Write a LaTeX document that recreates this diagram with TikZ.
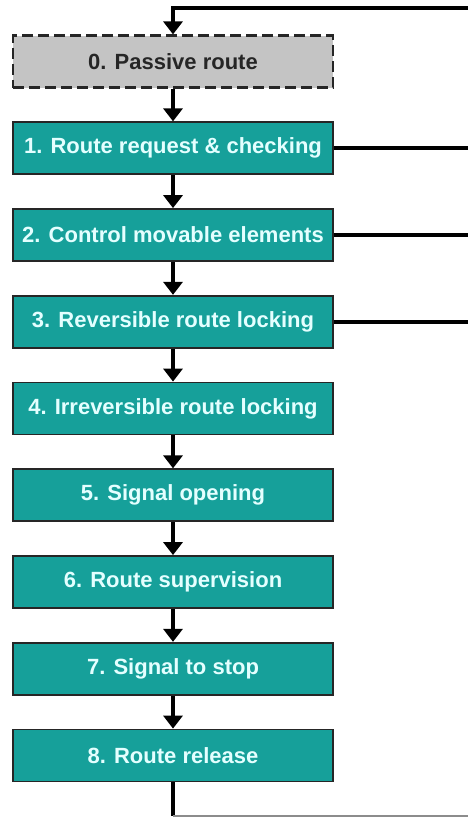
\documentclass[tikz,border=0pt]{standalone}
\usepackage{fontspec}
\setmainfont{Liberation Sans}
\usetikzlibrary{arrows.meta}
\definecolor{teal1}{HTML}{16A09A}
\definecolor{txt}{HTML}{E4FFFF}
\definecolor{greybox}{HTML}{C4C4C4}
\tikzset{
  stepbox/.style={draw=black!85, line width=1.8pt, fill=teal1, minimum width=320pt, minimum height=52pt, inner sep=0pt, text=txt, font=\fontsize{22}{26}\selectfont\bfseries},
  passivebox/.style={stepbox, fill=greybox, text=black!85, line width=2.2pt, dash pattern=on 11pt off 5pt},
  flow/.style={line width=4pt, -{Triangle[width=19pt,length=13pt]}},
  back/.style={line width=3.6pt},
}
\begin{document}
\begin{tikzpicture}[x=1pt,y=-1pt]
\useasboundingbox (0,0) rectangle (468,817);
\node[passivebox] (b0) at (173,61.5) {0. Passive route};
\node[stepbox] (b1) at (173,148.25) {1. Route request \& checking};
\node[stepbox] (b2) at (173,235) {2. Control movable elements};
\node[stepbox] (b3) at (173,321.75) {3. Reversible route locking};
\node[stepbox] (b4) at (173,408.5) {4. Irreversible route locking};
\node[stepbox] (b5) at (173,495.25) {5. Signal opening};
\node[stepbox] (b6) at (173,582) {6. Route supervision};
\node[stepbox] (b7) at (173,668.75) {7. Signal to stop};
\node[stepbox] (b8) at (173,755.5) {8. Route release};
\coordinate (top) at (173,8);
\coordinate (topr) at (470,8);
\coordinate (r1) at (470,148.25);
\coordinate (r2) at (470,235);
\coordinate (r3) at (470,321.75);
\coordinate (bot) at (173,816);
\coordinate (botr) at (470,816);
\draw[flow] (b0) -- (b1);
\draw[flow] (b1) -- (b2);
\draw[flow] (b2) -- (b3);
\draw[flow] (b3) -- (b4);
\draw[flow] (b4) -- (b5);
\draw[flow] (b5) -- (b6);
\draw[flow] (b6) -- (b7);
\draw[flow] (b7) -- (b8);
\draw[back] (topr) -- (top) -- ++(0,3);
\draw[flow] (top) -- (b0);
\draw[back] (b1) -- (r1);
\draw[back] (b2) -- (r2);
\draw[back] (b3) -- (r3);
\draw[line width=4pt] (b8) -- (bot);
\draw[line width=1.5pt, black!45] (bot) -- (botr);
\end{tikzpicture}
\end{document}
